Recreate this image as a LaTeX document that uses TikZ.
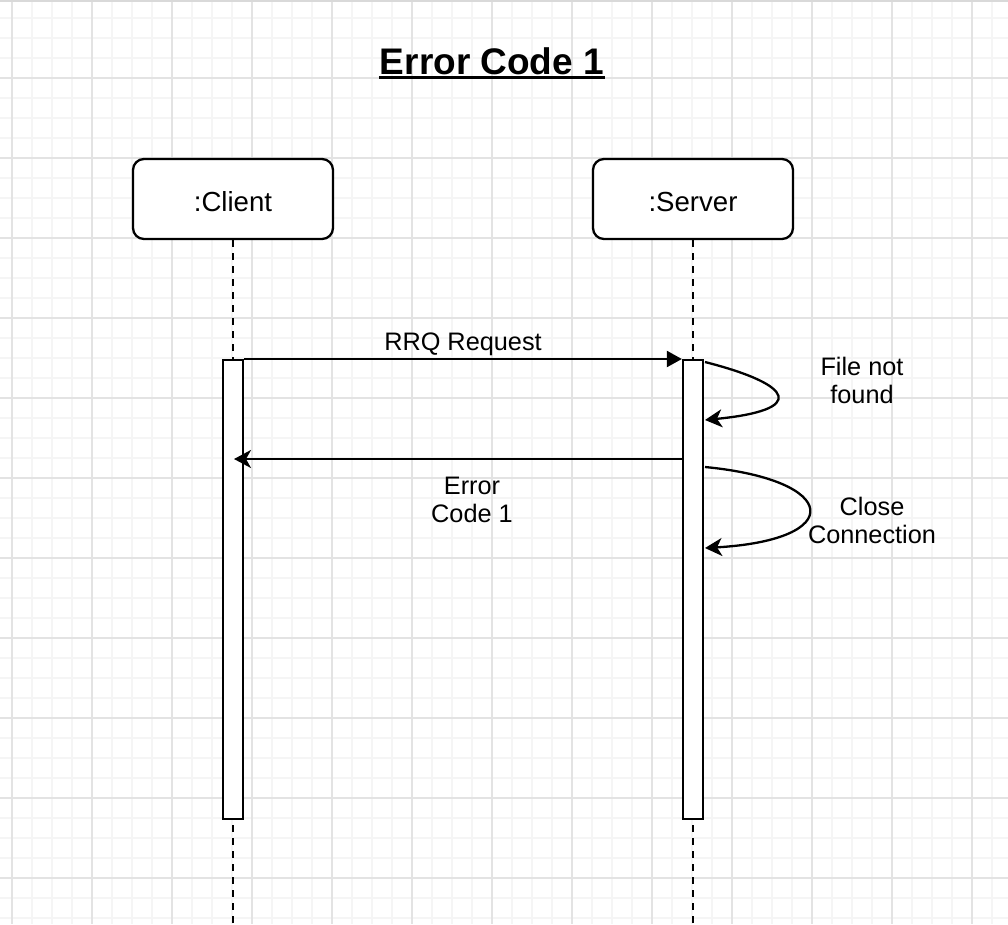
\documentclass[tikz,border=0pt]{standalone}
\usepackage{fontspec}
\setmainfont{Liberation Sans}
\usetikzlibrary{arrows.meta}
\begin{document}
\begin{tikzpicture}[x=1pt,y=-1pt,
  line width=2.3pt,
  lifebox/.style={draw,rounded corners=11pt,fill=white,minimum width=200pt,minimum height=80pt,inner sep=0pt},
  lifetext/.style={font=\fontsize{27.6}{30}\selectfont,anchor=base},
  lifeline/.style={dash pattern=on 6.5pt off 6.5pt},
  actbar/.style={draw,fill=white,minimum width=20pt,minimum height=459pt,inner sep=0pt,anchor=north},
  msg/.style={font=\fontsize{25.3}{28}\selectfont,align=center},
  sync/.style={-{Triangle[length=15pt,width=16pt]}},
  reply/.style={-{Stealth[length=17pt,width=18pt,inset=5pt]}},
  major/.style={draw=black!11,line width=1.2pt},
  minor/.style={draw=black!4,line width=1.2pt}]
% canvas and grid
\fill[white] (0,0) rectangle (1008,924);
\useasboundingbox (0,0) rectangle (1008,924);
\foreach \gx in {12,32,...,1008} \draw[minor] (\gx,0) -- (\gx,924);
\foreach \gy in {18,38,...,924} \draw[minor] (0,\gy) -- (1008,\gy);
\foreach \gx in {12,92,...,1008} \draw[major] (\gx,0) -- (\gx,924);
\foreach \gy in {78,158,...,924} \draw[major] (0,\gy) -- (1008,\gy);
\draw[draw=black!15,line width=2pt] (0,1) -- (1008,1);

% title
\node[font=\fontsize{37}{40}\selectfont\bfseries,anchor=base,inner sep=0pt] (title) at (492,74) {Error Code 1};
\draw[line width=2.6pt] ([yshift=-3.5pt]title.base west) -- ([yshift=-3.5pt]title.base east);

% lifelines
\coordinate (cend) at (233,924);
\coordinate (send) at (693,924);
\node[lifebox] (client) at (233,199) {};
\node[lifebox] (server) at (693,199) {};
\draw[lifeline] (client.south) -- (cend);
\draw[lifeline] (server.south) -- (send);
\node[lifetext] (clientlbl) at (233,211) {:Client};
\node[lifetext] (serverlbl) at (693,211) {:Server};

% activation bars
\node[actbar] (cbar) at (233,359) {};
\node[actbar] (sbar) at (693,359) {};

% messages
\draw[sync] (cbar.north east) -- (sbar.north west);
\node[msg,anchor=base] (rrq) at (463,350) {RRQ Request};

\coordinate (errtip) at (234,459);
\draw[reply] (sbar.west |- errtip) -- (errtip);
\node[msg] (errlbl) at (472,500) {Error\\Code 1};

% self calls on the server
\coordinate (s1a) at (705,362);
\coordinate (s1b) at (705,420);
\draw[reply] (s1a) .. controls (795,385) and (807,410) .. (s1b);
\node[msg] (s1lbl) at (862,380) {File not\\found};

\coordinate (s2a) at (705,467);
\coordinate (s2b) at (705,548);
\draw[reply] (s2a) .. controls (840,480) and (847,540) .. (s2b);
\node[msg] (s2lbl) at (872,520) {Close\\Connection};
\end{tikzpicture}
\end{document}
